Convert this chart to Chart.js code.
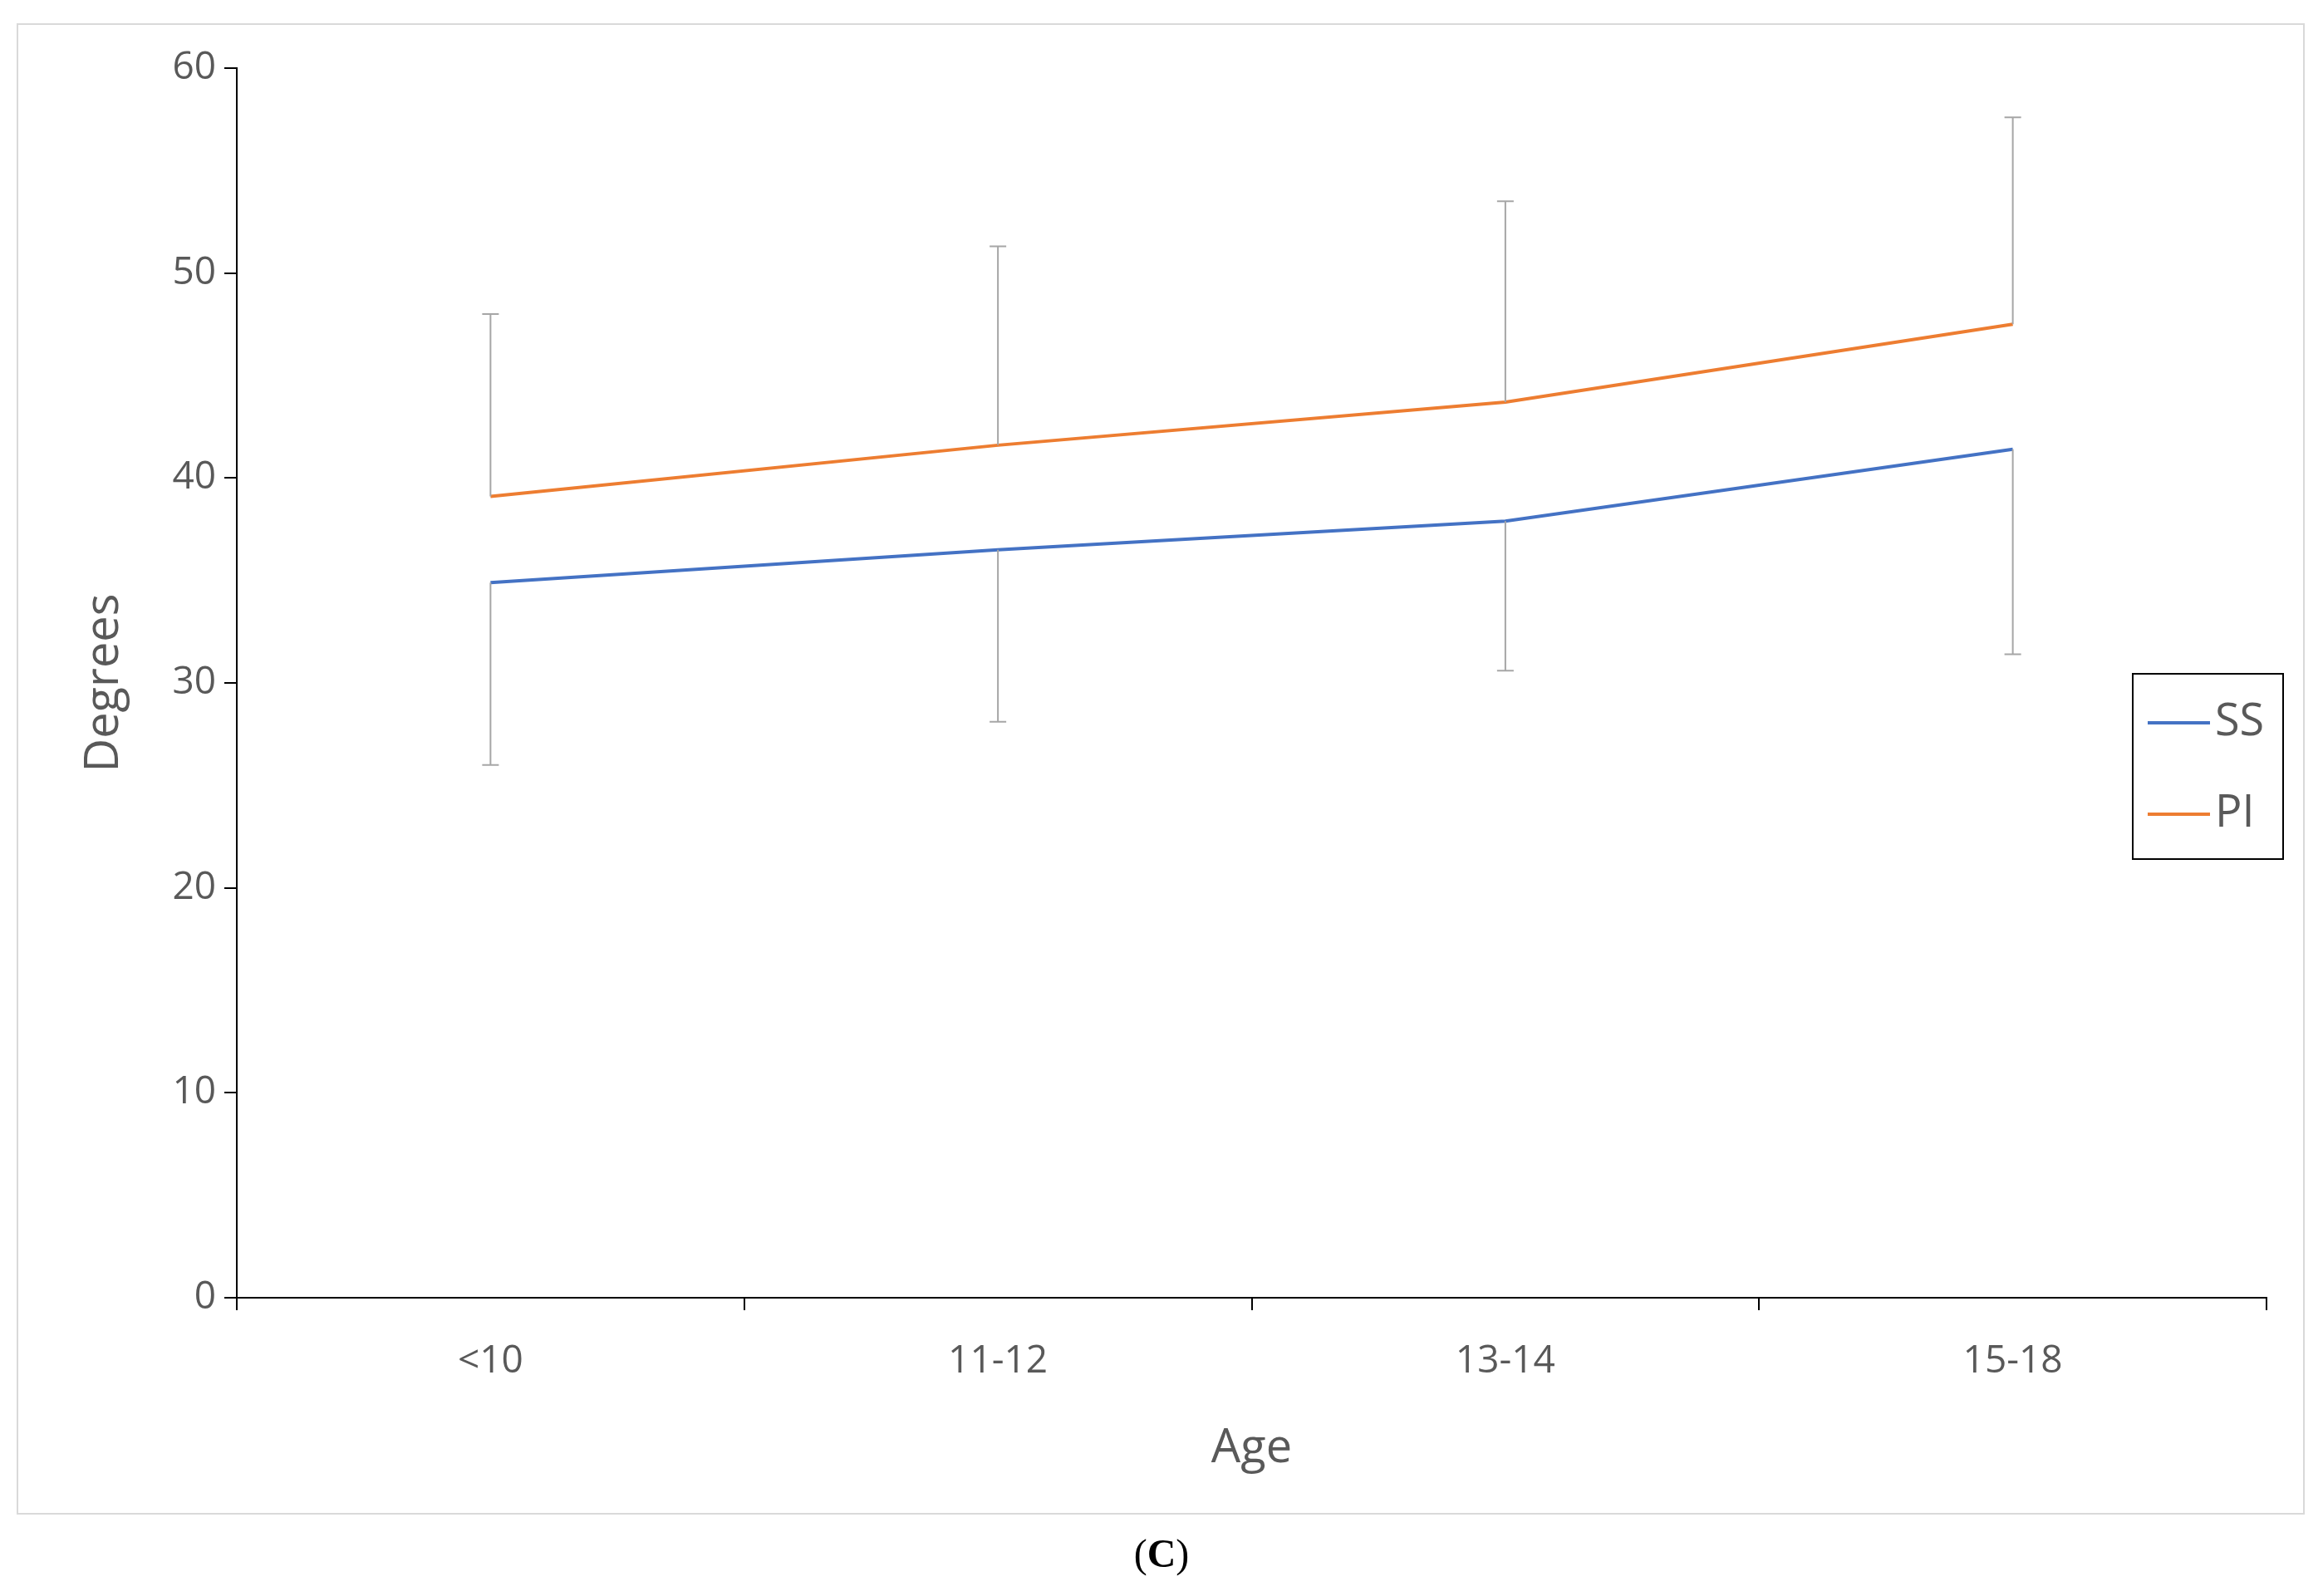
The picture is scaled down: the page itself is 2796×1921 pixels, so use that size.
<!DOCTYPE html>
<html>
<head>
<meta charset="utf-8">
<script src="https://cdn.jsdelivr.net/npm/chart.js@4"></script>
<style>
  body { margin: 0; background: #fff; }
  canvas { display: block; }
</style>
</head>
<body>
<canvas id="ageChart" width="2796" height="1921"></canvas>
<script>
const ageGroups = ["<10", "11-12", "13-14", "15-18"];
const ssValues = [34.9, 36.5, 37.9, 41.4];
const piValues = [39.1, 41.6, 43.7, 47.5];
// SS bars go down, PI bars go up
const ssErrLow = [26.0, 28.1, 30.6, 31.4];
const piErrHigh = [48.0, 51.3, 53.5, 57.6];

const grey = "#595959";

const extras = {
  id: "extras",
  beforeDraw(chart) {
    const c = chart.ctx;
    c.save();
    c.strokeStyle = "#d9d9d9";
    c.lineWidth = 2;
    c.strokeRect(21, 29, 2752, 1793);
    c.restore();
  },
  afterDatasetsDraw(chart) {
    const c = chart.ctx, x = chart.scales.x, y = chart.scales.y;
    c.save();
    c.strokeStyle = "#a6a6a6";
    c.lineWidth = 2;
    const bar = (i, from, to) => {
      const px = x.getPixelForValue(i);
      const y1 = y.getPixelForValue(from), y2 = y.getPixelForValue(to);
      c.beginPath();
      c.moveTo(px, y1); c.lineTo(px, y2);
      c.moveTo(px - 10, y2); c.lineTo(px + 10, y2);
      c.stroke();
    };
    ageGroups.forEach((g, i) => {
      bar(i, ssValues[i], ssErrLow[i]);
      bar(i, piValues[i], piErrHigh[i]);
    });
    c.restore();
  },
  afterDraw(chart) {
    const c = chart.ctx;
    c.save();
    // legend box
    c.strokeStyle = "#000";
    c.lineWidth = 2;
    c.strokeRect(2567, 811, 181, 223);
    const items = [["SS", "#4472C4", 870], ["PI", "#ED7D31", 980]];
    c.font = "54px 'Open Sans'";
    c.textBaseline = "middle";
    items.forEach(([t, col, yy]) => {
      c.strokeStyle = col;
      c.lineWidth = 4;
      c.beginPath(); c.moveTo(2585, yy); c.lineTo(2660, yy); c.stroke();
      c.fillStyle = grey;
      c.fillText(t, 2666, yy);
    });
    // caption
    c.fillStyle = "#000";
    c.textBaseline = "alphabetic";
    const reg = "48px 'Liberation Serif'", bold = "bold 48px 'Liberation Serif'";
    c.font = reg;
    const w1 = c.measureText("(").width;
    c.font = bold;
    const w2 = c.measureText("C").width;
    const sx = 1398 - (2 * w1 + w2) / 2;
    c.font = reg; c.fillText("(", sx, 1886);
    c.font = bold; c.fillText("C", sx + w1, 1886);
    c.font = reg; c.fillText(")", sx + w1 + w2, 1886);
    c.restore();
  }
};

new Chart(document.getElementById("ageChart"), {
  type: "line",
  data: {
    labels: ageGroups,
    datasets: [
      { label: "SS", data: ssValues, borderColor: "#4472C4", borderWidth: 4, pointRadius: 0, tension: 0, fill: false },
      { label: "PI", data: piValues, borderColor: "#ED7D31", borderWidth: 4, pointRadius: 0, tension: 0, fill: false }
    ]
  },
  options: {
    responsive: false,
    devicePixelRatio: 1,
    animation: false,
    layout: { padding: { left: 88, right: 68, top: 82, bottom: 139 } },
    plugins: { legend: { display: false }, tooltip: { enabled: false } },
    scales: {
      x: {
        offset: true,
        afterFit: s => { s.height = 220; },
        grid: { offset: true, drawOnChartArea: false, color: "#000", tickLength: 15, lineWidth: 2 },
        border: { color: "#000", width: 2 },
        ticks: { color: grey, font: { family: "Open Sans", size: 46 }, padding: 34 },
        title: { display: true, text: "Age", color: grey, font: { family: "Open Sans", size: 56 }, padding: { top: 10 } }
      },
      y: {
        min: 0, max: 60,
        afterFit: s => { s.width = 197; },
        grid: { drawOnChartArea: false, color: "#000", tickLength: 15, lineWidth: 2 },
        border: { color: "#000", width: 2 },
        ticks: { stepSize: 10, color: grey, font: { family: "Open Sans", size: 46 }, padding: 10 },
        title: { display: true, text: "Degrees", color: grey, font: { family: "Open Sans", size: 56 }, padding: { bottom: 10 } }
      }
    }
  },
  plugins: [extras]
});
</script>
</body>
</html>
